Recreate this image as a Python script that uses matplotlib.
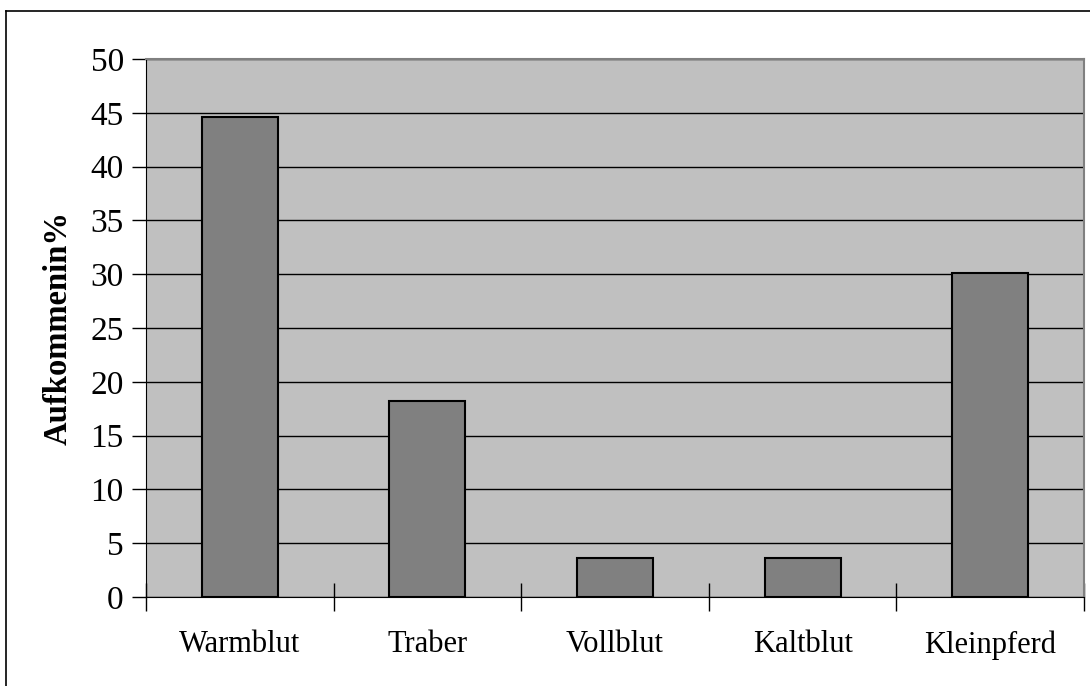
import matplotlib
matplotlib.use('Agg')
import matplotlib.pyplot as plt
from matplotlib.lines import Line2D
import numpy as np

# data
categories = ['Warmblut', 'Traber', 'Vollblut', 'Kaltblut', 'Kleinpferd']
values = [44.6, 18.2, 3.6, 3.6, 30.1]
y_ticks = [0, 5, 10, 15, 20, 25, 30, 35, 40, 45, 50]

plt.rcParams['font.family'] = ['Liberation Serif', 'DejaVu Serif']

fig = plt.figure(figsize=(10.9, 6.86), dpi=100)
ax = fig.add_axes([146 / 1090, 1 - 597 / 686, (1084 - 146) / 1090, (597 - 59) / 686])
ax.set_facecolor('#c0c0c0')

x = np.arange(len(categories))
ax.bar(x, values, width=0.405, color='#808080', edgecolor='black', linewidth=1.5, zorder=3)

ax.set_xlim(-0.5, len(categories) - 0.5)
ax.set_ylim(0, 50)
ax.set_yticks(y_ticks)
ax.set_yticklabels([str(v) for v in y_ticks], fontsize=24)
ax.yaxis.grid(True, color='black', linewidth=1.0, zorder=1)
ax.set_axisbelow(True)

# category labels centered, ticks on category boundaries
ax.set_xticks(x)
ax.set_xticklabels(categories, fontsize=22)
ax.tick_params(axis='x', length=0, pad=24)
ax.set_xticks(np.arange(-0.5, len(categories)), minor=True)
ax.tick_params(axis='x', which='minor', direction='inout', length=20, width=1, color='black')
ax.tick_params(axis='y', direction='out', length=10, width=1, pad=6)

ax.set_ylabel('Aufkommenin%', fontsize=23.5, fontweight='bold', labelpad=12)

for side in ['top', 'right']:
    ax.spines[side].set_color('#808080')
    ax.spines[side].set_linewidth(1.5)
ax.spines['left'].set_color('black')
ax.spines['bottom'].set_color('black')

# outer chart frame (only left and top edges visible)
fig.add_artist(Line2D([6 / 1090, 6 / 1090], [0, 1 - 11 / 686], color='black', linewidth=1.2, transform=fig.transFigure))
fig.add_artist(Line2D([6 / 1090, 1], [1 - 11 / 686, 1 - 11 / 686], color='black', linewidth=1.2, transform=fig.transFigure))

plt.savefig('out.png', dpi=100)
